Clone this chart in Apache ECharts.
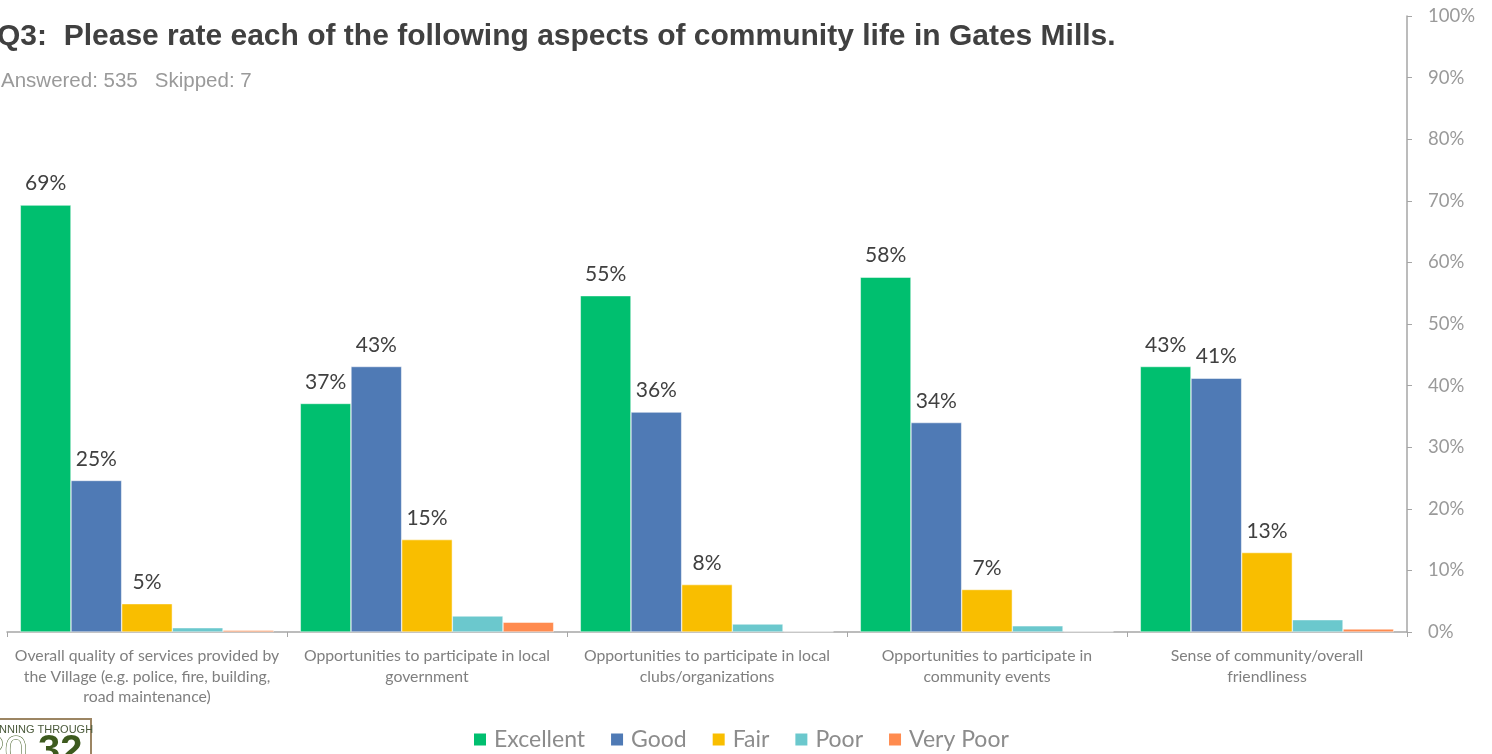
<!DOCTYPE html>
<html>
<head>
<meta charset="utf-8">
<script src="https://cdn.jsdelivr.net/npm/echarts@6/dist/echarts.min.js"></script>
<style>
html,body{margin:0;padding:0;background:#fff;}
#chart{width:1492px;height:754px;}
</style>
</head>
<body>
<div id="chart"></div>
<script>
const categories = [
  'Overall quality of services provided by\nthe Village (e.g. police, fire, building,\nroad maintenance)',
  'Opportunities to participate in local\ngovernment',
  'Opportunities to participate in local\nclubs/organizations',
  'Opportunities to participate in\ncommunity events',
  'Sense of community/overall\nfriendliness'
];
const seriesNames = ['Excellent', 'Good', 'Fair', 'Poor', 'Very Poor'];
const excellent = [69.3, 37.1, 54.6, 57.6, 43.1];
const good = [24.6, 43.1, 35.7, 34.0, 41.2];
const fair = [4.6, 15.0, 7.7, 6.9, 12.9];
const poor = [0.7, 2.6, 1.3, 1.0, 2.0];
const veryPoor = [0.3, 1.6, 0.1, 0.1, 0.5];
const yTicks = [0, 10, 20, 30, 40, 50, 60, 70, 80, 90, 100];

const colors = ['#00BF6F', '#4F7AB5', '#F9BE00', '#6BC8CD', '#FF8B4F'];
const values = [excellent, good, fair, poor, veryPoor];
const labeled = [true, true, true, false, false];

const chart = echarts.init(document.getElementById('chart'));
chart.setOption({
  animation: false,
  backgroundColor: '#fff',
  grid: { left: 7, right: 85, top: 16, bottom: 122, containLabel: false },
  title: [
    { text: 'Q3:  Please rate each of the following aspects of community life in Gates Mills.',
      left: -8, top: 17,
      textStyle: { fontFamily: 'Liberation Sans', fontWeight: 'bold', fontSize: 30, color: '#404040' } },
    { text: 'Answered: 535   Skipped: 7',
      left: -4, top: 66,
      textStyle: { fontFamily: 'Liberation Sans', fontWeight: 'normal', fontSize: 20.5, color: '#9a9a9a' } }
  ],
  legend: {
    data: seriesNames,
    top: 723, left: 467,
    itemWidth: 14, itemHeight: 14, itemGap: 24,
    icon: 'rect',
    textStyle: { fontFamily: 'Lato', fontSize: 23, color: '#8c8c8c', padding: [0,0,0,2] }
  },
  xAxis: {
    type: 'category',
    data: categories,
    axisLine: { lineStyle: { color: '#a6a6a6', width: 1.5 } },
    axisTick: { show: true, length: 5, lineStyle: { color: '#a6a6a6' } },
    axisLabel: { fontFamily: 'Lato', fontSize: 15.8, color: '#7f7f7f', lineHeight: 20.5, margin: 14, interval: 0 }
  },
  yAxis: {
    type: 'value',
    position: 'right',
    min: 0, max: 100, interval: 10,
    axisLine: { show: true, lineStyle: { color: '#a6a6a6', width: 1.5 } },
    axisTick: { show: true, inside: false, length: 5, lineStyle: { color: '#a6a6a6' } },
    splitLine: { show: false },
    axisLabel: { fontFamily: 'Lato', fontSize: 18.5, color: '#9a9a9a', margin: 21,
      formatter: v => yTicks.indexOf(v) >= 0 ? v + '%' : '' }
  },
  series: seriesNames.map((name, i) => ({
    name: name,
    type: 'bar',
    data: values[i],
    barGap: '0%',
    barCategoryGap: '9.5%',
    itemStyle: { color: colors[i], borderColor: '#ffffff', borderWidth: 0.5 },
    label: {
      show: labeled[i], position: 'top', distance: 11,
      fontFamily: 'Lato', fontSize: 21, color: '#404040',
      formatter: p => Math.round(p.value) + '%'
    }
  })),
  graphic: [
    { type: 'rect', left: -10, top: 718, shape: { width: 100, height: 60 },
      style: { fill: '#fff', stroke: '#9c8563', lineWidth: 2 } },
    { type: 'text', left: -1, top: 724,
      style: { text: 'NNING THROUGH', fontFamily: 'Liberation Sans Narrow, Liberation Sans', fontSize: 11, fill: '#4a5a3a' } },
    { type: 'text', left: -18, top: 732,
      style: { text: '20', fontFamily: 'Liberation Sans', fontSize: 40, fontWeight: 'normal', fill: '#fff', stroke: '#3d5a1e', lineWidth: 1 } },
    { type: 'text', left: 38, top: 732,
      style: { text: '32', fontFamily: 'Liberation Sans', fontSize: 40, fontWeight: 'bold', fill: '#3d5a1e' } }
  ]
});
</script>
</body>
</html>
